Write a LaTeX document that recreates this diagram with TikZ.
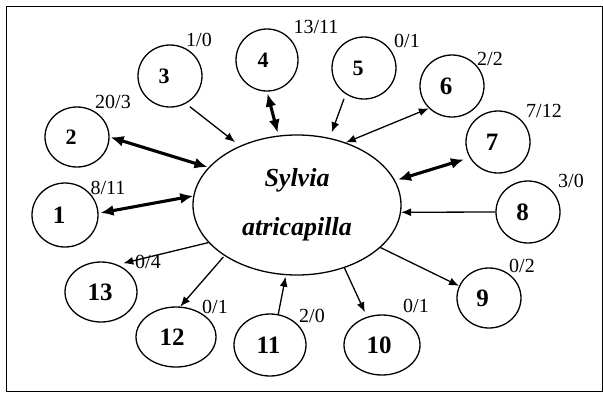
\documentclass[tikz,border=0pt]{standalone}
\usepackage{fontspec}
\setmainfont{Liberation Serif}
\usetikzlibrary{arrows.meta,shapes.geometric}

\tikzset{
  site/.style={draw, ellipse, line width=1.3pt, inner sep=0pt,
    font=\fontsize{25}{25}\selectfont\bfseries},
  small site/.style={site, font=\fontsize{22}{22}\selectfont\bfseries},
  sz/.style 2 args={minimum width=#1pt, minimum height=#2pt},
  count/.style={inner sep=0pt, font=\fontsize{20}{20}\selectfont},
  species/.style={draw, ellipse, line width=1.3pt, inner sep=0pt,
    minimum width=208pt, minimum height=140pt, align=center,
    font=\fontsize{26}{49}\selectfont\bfseries\itshape},
  onelink/.style={line width=1.3pt, -{Latex[length=10pt,width=8pt]}},
  twolink/.style={line width=1.3pt, {Latex[length=10pt,width=8pt]}-{Latex[length=10pt,width=8pt]}},
  boldlink/.style={line width=3.1pt, {Latex[length=13pt,width=11pt]}-{Latex[length=13pt,width=11pt]}},
}

\begin{document}
\begin{tikzpicture}[x=1pt,y=-1pt]
  \useasboundingbox (0,0) rectangle (603,392);
  \draw[line width=1.5pt] (6.5,6.5) rectangle (602.5,391.5);

  % central species
  \node[species] (E) at (297,205) {Sylvia\\atricapilla};

  % surrounding sites
  \node[site, sz={66}{64}] (c1) at (65,215) {1\kern12pt};
  \node[small site, sz={64}{60}] (c2) at (77,137) {2\kern12pt};
  \node[small site, sz={64}{62}] (c3) at (170,76) {3\kern12pt};
  \node[small site, sz={62}{62}] (c4) at (267,60) {4\kern8pt};
  \node[small site, sz={64}{62}] (c5) at (364,68) {5\kern12pt};
  \node[site, sz={64}{62}] (c6) at (452,86) {6\kern12pt};
  \node[site, sz={64}{62}] (c7) at (498,142) {7\kern12pt};
  \node[site, sz={64}{62}] (c8) at (528,212) {8\kern11pt};
  \node[site, sz={64}{60}] (c9) at (489,298) {9\kern13pt};
  \node[site, sz={76}{60}] (c10) at (382,345) {10\kern6pt};
  \node[site, sz={72}{62}] (c11) at (270,345) {11\kern3pt};
  \node[site, sz={80}{60}] (c12) at (176,337) {12\kern8pt};
  \node[site, sz={72}{60}] (c13) at (101,292) {13\kern2pt};

  % counts
  \node[count] (l1) at (108,188) {8/11};
  \node[count] (l2) at (113,102) {20/3};
  \node[count] (l3) at (199,40) {1/0};
  \node[count] (l4) at (316,27) {13/11};
  \node[count] (l5) at (407,41) {0/1};
  \node[count] (l6) at (490,59) {2/2};
  \node[count] (l7) at (544,111) {7/12};
  \node[count] (l8) at (571,181) {3/0};
  \node[count] (l9) at (522,266) {0/2};
  \node[count] (l10) at (416,306) {0/1};
  \node[count] (l11) at (312,316) {2/0};
  \node[count] (l12) at (215,307) {0/1};

  % links
  \draw[boldlink, shorten <=2pt] (c1.3) -- (E.175.6);
  \draw[boldlink, shorten <=1pt, shorten >=1pt] (c2.0) -- (E.157);
  \draw[onelink, shorten <=5pt, shorten >=6pt] (c3.-60) -- (E.134.5);
  \draw[boldlink, shorten <=2pt, shorten >=3pt] (c4.-90) -- (E.105);
  \draw[onelink, shorten <=5pt, shorten >=6pt] (c5.-125) -- (E.64);
  \draw[twolink] (c6.-136) -- (E.52);
  \draw[boldlink, shorten <=6pt, shorten >=3pt] (c7.-151) -- (E.14);
  \draw[onelink] (c8.180) -- (E.-4.4);
  \draw[onelink] (E.-27) -- (c9.158.6);
  \draw[onelink, shorten >=5pt] (E.-53) -- (c10.118);
  \draw[onelink, shorten >=1.5pt] (c11.75) -- (E.-99.6);
  \draw[onelink, shorten <=1.5pt] (E.-145.4) -- (c12.82);
  \draw[onelink, shorten >=6pt] (E.-157.4) -- (c13.59);

  % this count sits over the line that runs to site 13
  \node[count] (l13) at (148,262) {0/4};
\end{tikzpicture}
\end{document}
